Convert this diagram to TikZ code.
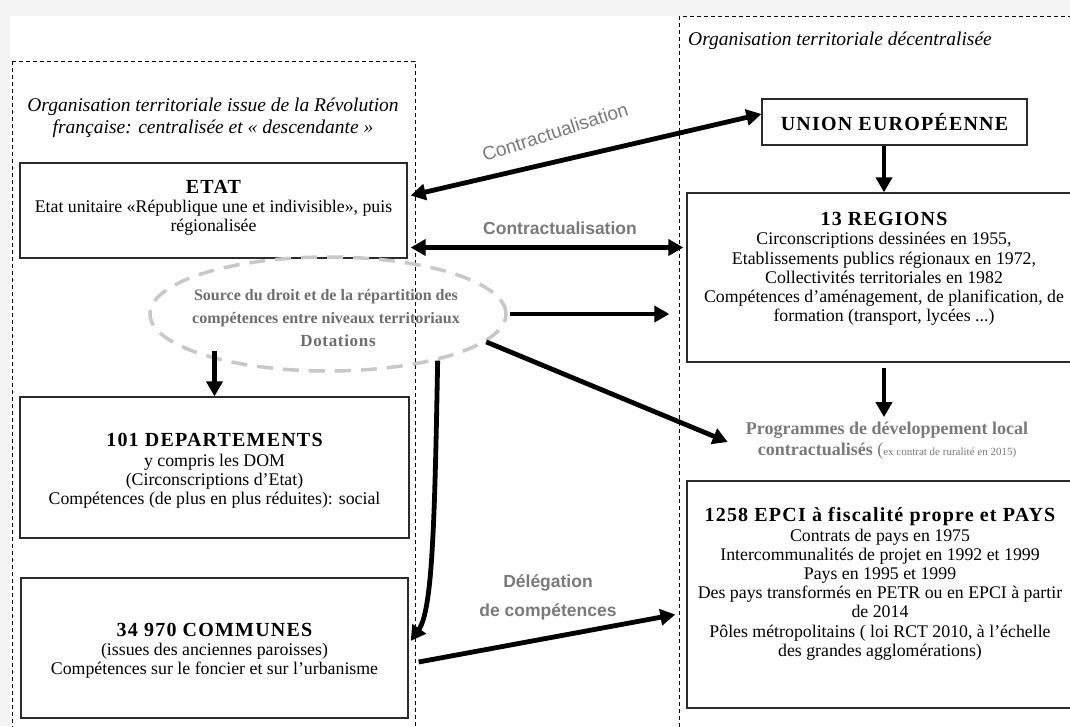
\documentclass[tikz,border=0pt]{standalone}
\usepackage{fontspec}
\setmainfont{Liberation Serif}
\setsansfont{Liberation Sans}
\usetikzlibrary{arrows.meta,shapes.geometric,calc}
\definecolor{txtgray}{HTML}{7A7A7A}
\definecolor{ellgray}{HTML}{C8C8C8}
\definecolor{ellgtxt}{HTML}{6E6E6E}
\definecolor{bordergray}{HTML}{2B2B2B}
\definecolor{bggray}{HTML}{F3F3F3}
\newcommand{\boxtitle}{\bfseries\fontsize{20}{22}\selectfont\addfontfeatures{LetterSpace=6}}
\begin{document}
\begin{tikzpicture}[x=1pt,y=-1pt,
  box/.style={draw=bordergray, line width=1.3pt, inner sep=0pt},
  body/.style={align=center, font=\fontsize{17.8}{19.2}\selectfont, inner sep=0pt},
  container/.style={draw=black, line width=0.9pt, dash pattern=on 4pt off 3pt},
  arr/.style={line width=4.8pt, -{Triangle[length=15pt,width=16pt]}},
  darr/.style={line width=4.8pt, {Triangle[length=15pt,width=16pt]}-{Triangle[length=15pt,width=16pt]}},
  glabel/.style={font=\sffamily\bfseries\fontsize{17.5}{29}\selectfont, text=txtgray, align=center, inner sep=0pt}
]
\useasboundingbox (0,0) rectangle (1070,726);
\fill[bggray] (0,0) rectangle (1070,726);
\fill[white] (10,16) rectangle (1070,726);

% containers
\draw[container] (12,61) rectangle (415,745);
\draw[container] (679,16) rectangle (1095,745);

% titles
\node[font=\itshape\fontsize{19.5}{22}\selectfont, align=center, inner sep=0pt] (ltitle) at (213,118)
  {Organisation territoriale issue de la Révolution\\française: centralisée et « descendante »};
\node[font=\itshape\fontsize{19.5}{20}\selectfont, anchor=west, inner sep=0pt] (rtitle) at (688,41)
  {Organisation territoriale décentralisée};

% left column
\node[box, minimum width=387pt, minimum height=95pt] (etat) at (213.5,210.5) {};
\node[body] (etatT) at (213.5,208)
  {{\boxtitle ETAT}\\Etat unitaire «République une et indivisible», puis\\régionalisée};

\node[ellipse, draw=ellgray, line width=3.5pt, dash pattern=on 16pt off 10pt,
      minimum width=356pt, minimum height=114pt, inner sep=0pt] (ell) at (328,314) {};
\node[align=center, text=ellgtxt, font=\bfseries\fontsize{16}{23}\selectfont, inner sep=0pt] (ellT) at (326,318)
  {Source du droit et de la répartition des\\compétences entre niveaux territoriaux\\\hspace*{24pt}{\fontsize{17}{23}\selectfont\addfontfeatures{LetterSpace=4}Dotations}};

\node[box, minimum width=389pt, minimum height=141pt] (dep) at (214.5,467.5) {};
\node[body] (depT) at (214.5,471)
  {{\boxtitle 101 DEPARTEMENTS}\\y compris les DOM\\(Circonscriptions d’Etat)\\Compétences (de plus en plus réduites): social};

\node[box, minimum width=387pt, minimum height=140pt] (com) at (214.5,648) {};
\node[body] (comT) at (214.5,651)
  {{\boxtitle 34 970 COMMUNES}\\(issues des anciennes paroisses)\\Compétences sur le foncier et sur l’urbanisme};

% right column
\node[box, minimum width=265pt, minimum height=46pt, font=\boxtitle] (ue) at (894.5,122)
  {UNION EUROPÉENNE};

\node[box, minimum width=394pt, minimum height=169pt] (regions) at (884,277.5) {};
\node[body] (regT) at (884,269)
  {{\boxtitle 13 REGIONS}\\Circonscriptions dessinées en 1955,\\Etablissements publics régionaux en 1972,\\Collectivités territoriales en 1982\\Compétences d’aménagement, de planification, de\\formation (transport, lycées ...)};

\node[align=center, inner sep=0pt, text=txtgray, font=\fontsize{18}{21}\selectfont] (prog) at (887,441)
  {{\bfseries Programmes de développement local}\\{\bfseries contractualisés} ({\fontsize{11}{13}\selectfont ex contrat de ruralité en 2015)}};

\node[box, minimum width=394pt, minimum height=227pt] (epci) at (884,594.5) {};
\node[body] (epciT) at (880,584)
  {{\boxtitle 1258 EPCI à fiscalité propre et PAYS}\\Contrats de pays en 1975\\Intercommunalités de projet en 1992 et 1999\\Pays en 1995 et 1999\\Des pays transformés en PETR ou en EPCI à partir\\de 2014\\Pôles métropolitains ( loi RCT 2010, à l’échelle\\des grandes agglomérations)};

% labels
\node[glabel] (c2) at (560,228) {Contractualisation};
\node[font=\sffamily\fontsize{19}{20}\selectfont, text=txtgray, rotate=18, inner sep=0pt] (c1) at (555,132) {Contractualisation};
\node[glabel] (dl) at (548,597) {Délégation\\de compétences};

% connectors
\draw[darr] ([yshift=8pt]ue.west) -- ([xshift=3pt,yshift=15pt]etat.east);
\draw[darr] ($(etat.east)+(3,37)$) -- ($(etat.east -| regions.west)+(-3,37)$);
\draw[arr] ($(ell.east)+(2,0)$) -- ($(ell.east -| regions.west)+(-17,0)$);
\draw[arr] (ell.-10) -- ($(prog.west)+(-18,1)$);
\draw[arr] ($(dep.north)+(0,-45)$) -- (dep.north);
\draw[arr] (ell.-23) .. controls ($(ell.-23)+(-3,160)$) and ($(com.east)+(24,-38)$) .. ($(com.east)+(2,-7)$);
\draw[arr] ($(com.east)+(10,14)$) -- ($(epci.west)+(-11,20)$);
\draw[arr] (ue.south -| regions.north) -- (regions.north);
\draw[arr] ($(regions.south)+(0,5)$) -- ($(regions.south |- prog.north)+(0,-5)$);
\end{tikzpicture}
\end{document}
